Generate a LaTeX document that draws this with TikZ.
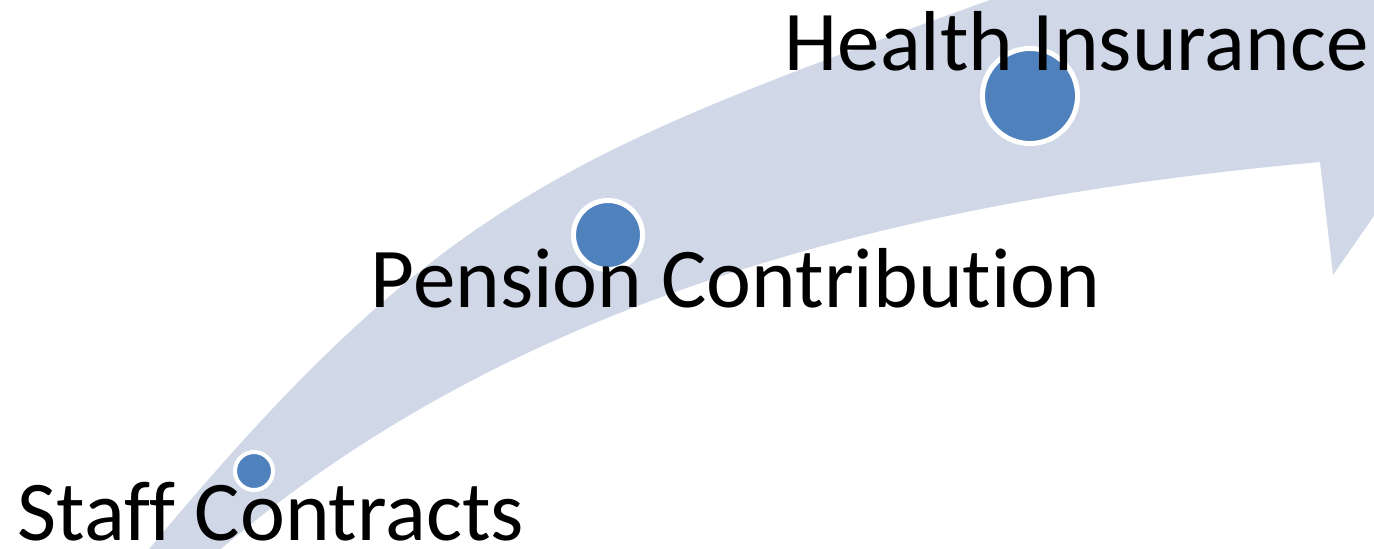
\documentclass[tikz,border=0pt]{standalone}
\usepackage{fontspec}
\setmainfont{Carlito}[Ligatures={NoCommon}]
\definecolor{arrowfill}{HTML}{D0D8E8}
\definecolor{dotblue}{HTML}{4F81BD}
\tikzset{
  dot/.style={circle, fill=dotblue, draw=white, inner sep=0pt},
  label/.style={anchor=base west, inner sep=0pt, font=\fontsize{24.2}{29}\selectfont, text=black}
}
\begin{document}
\begin{tikzpicture}[x=0.01cm,y=-0.01cm]
\useasboundingbox (0,0) rectangle (1374,548);
\begin{scope}
\clip (0,0) rectangle (1374,548);
\fill[arrowfill] (141,559) -- (150,548) .. controls (438,202) and (567,152) .. (990,0)
  -- (1200,-76) -- (1400,-100) -- (1450,106) -- (1333,275) -- (1320,162)
  .. controls (922,198) and (527,289) .. (222,548) -- (213,556) -- cycle;
\end{scope}
\node[dot, minimum size=0.38cm, line width=0.04cm] (c1) at (254,471) {};
\node[dot, minimum size=0.69cm, line width=0.05cm] (c2) at (608,235) {};
\node[dot, minimum size=0.95cm, line width=0.05cm] (c3) at (1030,96) {};
\node[label] (t1) at (17,540) {Staff Contracts};
\node[label] (t2) at (370,307) {Pension Contribution};
\node[label] (t3) at (784,70) {Health Insurance};
\end{tikzpicture}
\end{document}
